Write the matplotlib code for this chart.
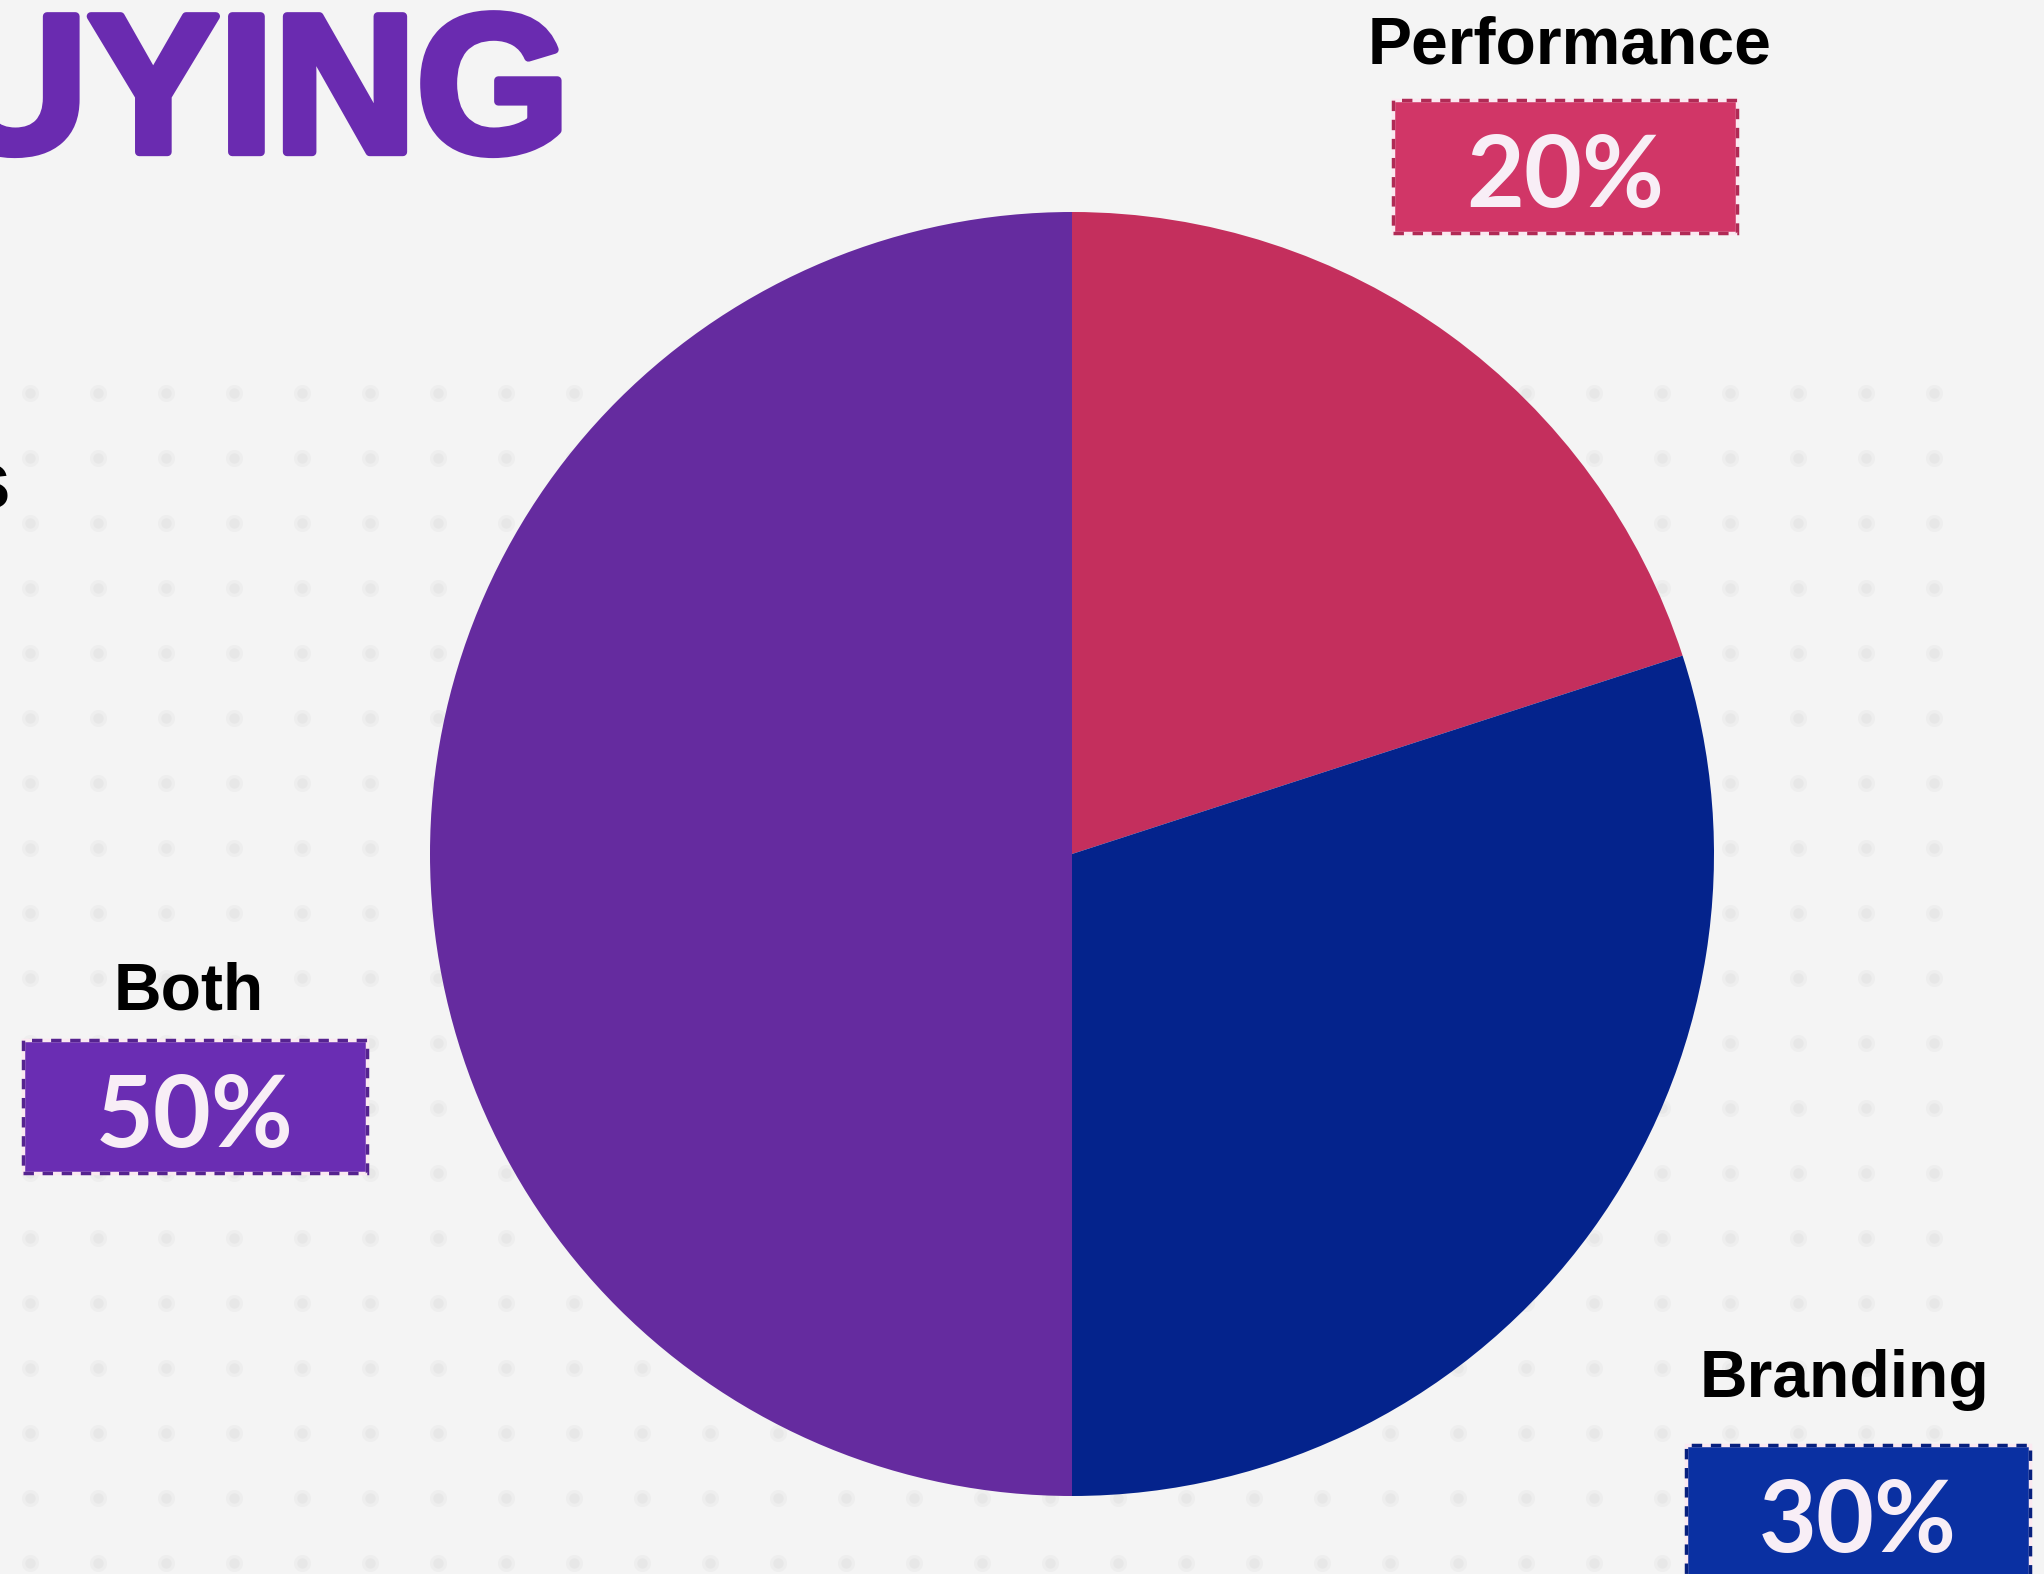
import numpy as np
import matplotlib.pyplot as plt
import matplotlib.patheffects as pe
from matplotlib.patches import Rectangle

W, H = 2044, 1574

categories = ["Performance", "Branding", "Both"]
shares = [20, 30, 50]
pie_colors = ["#c42f5d", "#04238c", "#652b9f"]
box_colors = ["#d13667", "#0a30a2", "#6a2db3"]
edge_colors = ["#b02a55", "#06207e", "#55238f"]

# label anchors in pixel coords (y measured from top)
label_xy = {"Performance": (1570, 63), "Branding": (1845, 1397), "Both": (189, 1010)}
box_xy = {"Performance": (1393, 100), "Branding": (1686, 1445), "Both": (23, 1040)}
BOX_W, BOX_H = 344, 133

BG = "#f4f4f4"
PURPLE = "#6a2bb0"


def Y(y):
    return H - y


fig = plt.figure(figsize=(W / 100, H / 100), dpi=100)
fig.patch.set_facecolor(BG)
ax = fig.add_axes([0, 0, 1, 1])
ax.set_xlim(0, W)
ax.set_ylim(0, H)
ax.set_aspect("equal")
ax.axis("off")

# faint, soft dot texture behind everything
gx, gy = np.meshgrid(np.arange(30, 1940, 68), np.arange(393, H + 20, 65))
ax.scatter(gx.ravel(), Y(gy.ravel()), s=150, marker="o", color="#eeeeee",
           linewidths=0, zorder=0)
ax.scatter(gx.ravel(), Y(gy.ravel()), s=55, marker="o", color="#e7e7e7",
           linewidths=0, zorder=0)

# headline fragments running off the left edge
heavy = [pe.withStroke(linewidth=6, foreground=PURPLE)]
ax.text(570, Y(152), "BUYING", ha="right", va="baseline", color=PURPLE,
        fontsize=142, fontweight="bold", family="Liberation Sans", zorder=3,
        path_effects=heavy)
ax.text(10, Y(508), "s", ha="right", va="baseline", color="black",
        fontsize=58, fontweight="bold", family="Liberation Sans", zorder=3)

ax.pie(shares, colors=pie_colors, startangle=90, counterclock=False,
       center=(1072, Y(854)), radius=642, frame=True,
       wedgeprops=dict(linewidth=0))
ax.set_xlim(0, W)
ax.set_ylim(0, H)
ax.axis("off")

for name, val, fc, ec in zip(categories, shares, box_colors, edge_colors):
    lx, ly = label_xy[name]
    ax.text(lx, Y(ly), name, ha="center", va="baseline", color="black",
            fontsize=47.5, fontweight="bold", family="Liberation Sans", zorder=4)
    bx, by = box_xy[name]
    ax.add_patch(Rectangle((bx, Y(by + BOX_H)), BOX_W, BOX_H, facecolor=fc,
                           edgecolor="#fbe9f1", linewidth=2.5, zorder=4))
    ax.add_patch(Rectangle((bx, Y(by + BOX_H)), BOX_W, BOX_H, facecolor="none",
                           edgecolor=ec, linewidth=2.5, linestyle=(0, (3, 2.5)),
                           zorder=5))
    ax.text(bx + BOX_W / 2, Y(by + 107), f"{val}%", ha="center", va="baseline",
            color="#f8eef6", fontsize=72, fontweight="bold", family="Lato",
            zorder=6)

fig.savefig("out.png", dpi=100, facecolor=BG)
